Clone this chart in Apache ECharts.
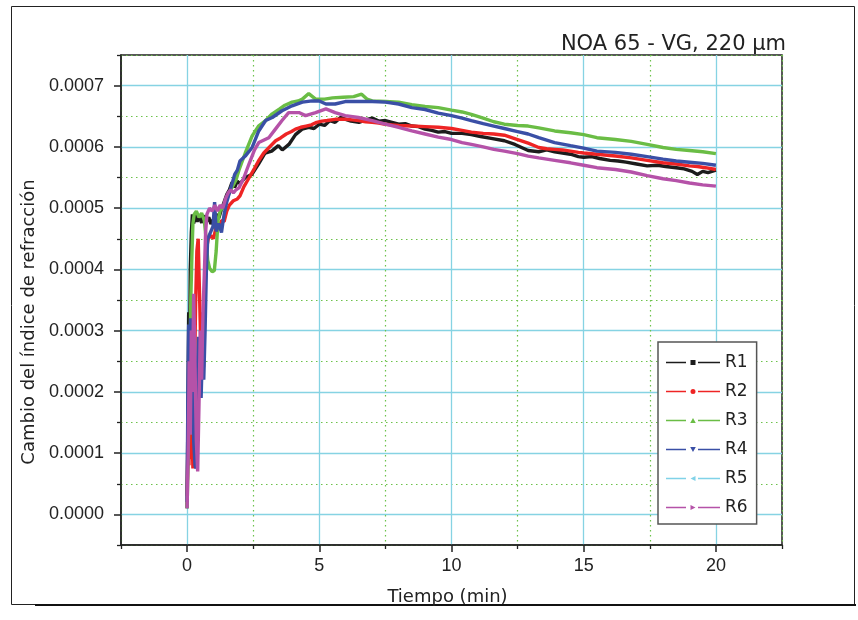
<!DOCTYPE html>
<html>
<head>
<meta charset="utf-8">
<script src="https://cdn.jsdelivr.net/npm/echarts@6/dist/echarts.min.js"></script>
<style>html,body{margin:0;padding:0;background:#fff;}#c{width:858px;height:620px;}</style>
</head>
<body>
<div id="c"></div>
<script>
// values in units of 1e-4 (refraction index change), time in min
const seriesNames = ['R1','R2','R3','R4','R5','R6'];
const xTickLabels = [0,5,10,15,20];
const yTickLabels = ['0.0000','0.0001','0.0002','0.0003','0.0004','0.0005','0.0006','0.0007'];

const r1 = [[0,0.1],[0.03,1.6],[0.06,3.3],[0.09,2.5],[0.12,4.0],[0.16,4.6],[0.2,4.9],[0.25,4.75],[0.3,4.9],[0.38,4.78],[0.46,4.86],[0.55,4.76],[0.64,4.88],[0.73,4.78],[0.82,4.85],[0.9,4.74],[1.0,4.82],[1.1,4.9],[1.2,4.84],[1.3,4.98],[1.4,5.1],[1.5,5.22],[1.6,5.3],[1.7,5.42],[1.8,5.34],[1.9,5.44],[2.0,5.4],[2.2,5.5],[2.45,5.55],[2.7,5.72],[2.95,5.9],[3.2,5.93],[3.45,6.02],[3.6,5.95],[3.85,6.04],[4.1,6.2],[4.35,6.29],[4.6,6.32],[4.8,6.3],[5.0,6.37],[5.2,6.35],[5.4,6.43],[5.6,6.4],[5.8,6.48],[6.0,6.45],[6.2,6.42],[6.5,6.4],[6.75,6.44],[7.0,6.47],[7.25,6.42],[7.5,6.43],[7.75,6.4],[8.0,6.37],[8.25,6.38],[8.5,6.34],[8.75,6.33],[9.0,6.29],[9.25,6.27],[9.5,6.24],[9.75,6.25],[10.0,6.22],[10.4,6.22],[10.75,6.2],[11.1,6.17],[11.5,6.14],[12.0,6.1],[12.4,6.04],[12.9,5.94],[13.3,5.92],[13.6,5.95],[13.9,5.92],[14.2,5.9],[14.5,5.88],[14.8,5.84],[15.0,5.83],[15.3,5.84],[15.6,5.81],[16.0,5.78],[16.3,5.77],[16.6,5.75],[17.0,5.72],[17.4,5.69],[17.8,5.7],[18.1,5.68],[18.5,5.66],[18.8,5.64],[19.1,5.6],[19.3,5.55],[19.5,5.6],[19.7,5.58],[20.0,5.62]];
const r2 = [[0,0.3],[0.04,1.4],[0.07,0.8],[0.1,1.9],[0.14,0.9],[0.18,1.5],[0.22,0.75],[0.27,2.0],[0.32,3.4],[0.37,4.3],[0.42,4.5],[0.47,3.6],[0.52,2.7],[0.57,3.3],[0.62,2.4],[0.67,3.5],[0.72,4.3],[0.8,4.5],[0.9,4.55],[1.0,4.5],[1.1,4.7],[1.2,4.65],[1.3,4.8],[1.4,4.78],[1.5,4.95],[1.6,5.05],[1.75,5.12],[1.9,5.15],[2.0,5.2],[2.15,5.35],[2.35,5.5],[2.55,5.65],[2.7,5.77],[2.9,5.9],[3.1,5.99],[3.35,6.1],[3.55,6.15],[3.75,6.21],[3.95,6.25],[4.1,6.29],[4.3,6.32],[4.5,6.34],[4.7,6.36],[4.9,6.4],[5.1,6.42],[5.3,6.43],[5.6,6.45],[6.0,6.45],[6.25,6.44],[6.5,6.43],[6.75,6.41],[7.0,6.4],[7.25,6.39],[7.5,6.37],[7.75,6.36],[8.0,6.35],[8.5,6.34],[9.0,6.33],[9.5,6.32],[10.0,6.3],[10.4,6.27],[10.75,6.24],[11.2,6.22],[11.6,6.21],[12.0,6.19],[12.5,6.12],[12.9,6.06],[13.3,5.99],[13.6,5.97],[13.9,5.96],[14.2,5.95],[14.5,5.93],[14.8,5.91],[15.0,5.9],[15.5,5.88],[16.2,5.85],[16.8,5.82],[17.4,5.78],[18.0,5.74],[18.5,5.72],[19.0,5.69],[19.3,5.68],[19.6,5.66],[20.0,5.63]];
const r3 = [[0,0.1],[0.05,1.2],[0.1,2.3],[0.14,3.5],[0.18,4.2],[0.22,4.75],[0.27,4.9],[0.35,4.95],[0.45,4.85],[0.55,4.92],[0.65,4.8],[0.72,4.5],[0.78,4.15],[0.85,4.02],[0.95,3.96],[1.03,3.98],[1.1,4.3],[1.17,4.8],[1.25,4.96],[1.35,5.0],[1.45,5.12],[1.55,5.2],[1.65,5.3],[1.75,5.38],[1.85,5.46],[1.96,5.62],[2.2,5.9],[2.46,6.18],[2.7,6.34],[2.97,6.43],[3.22,6.54],[3.5,6.62],[3.7,6.68],[3.97,6.73],[4.2,6.75],[4.36,6.78],[4.6,6.87],[4.86,6.78],[5.2,6.78],[5.5,6.8],[5.9,6.81],[6.3,6.82],[6.6,6.86],[6.8,6.78],[7.0,6.75],[7.5,6.74],[8.0,6.73],[8.5,6.69],[9.0,6.66],[9.5,6.64],[10.0,6.6],[10.4,6.57],[10.75,6.53],[11.2,6.47],[11.6,6.41],[12.0,6.37],[12.5,6.35],[12.9,6.34],[13.3,6.31],[13.9,6.26],[14.5,6.23],[15.0,6.2],[15.5,6.15],[16.2,6.12],[16.8,6.09],[17.4,6.04],[18.0,5.99],[18.5,5.96],[19.0,5.94],[19.5,5.92],[20.0,5.89]];
const r4 = [[0,0.2],[0.03,2.0],[0.06,3.1],[0.09,2.2],[0.13,3.2],[0.17,1.6],[0.21,2.5],[0.25,1.2],[0.3,0.8],[0.34,0.75],[0.38,2.2],[0.43,2.9],[0.48,2.3],[0.53,1.9],[0.58,2.7],[0.63,2.2],[0.68,3.0],[0.73,4.0],[0.78,4.5],[0.88,4.6],[0.98,4.7],[1.04,5.1],[1.1,4.62],[1.2,4.75],[1.3,4.6],[1.4,4.9],[1.5,5.1],[1.6,5.25],[1.7,5.4],[1.8,5.55],[1.9,5.62],[2.0,5.77],[2.2,5.85],[2.46,5.99],[2.71,6.26],[2.97,6.43],[3.22,6.48],[3.59,6.59],[3.97,6.67],[4.36,6.73],[4.73,6.75],[5.0,6.75],[5.25,6.7],[5.6,6.7],[5.98,6.74],[6.48,6.74],[7.0,6.74],[7.5,6.73],[8.0,6.7],[8.5,6.64],[9.0,6.61],[9.5,6.55],[10.0,6.51],[10.4,6.47],[10.75,6.43],[11.2,6.38],[11.6,6.34],[12.0,6.3],[12.5,6.25],[12.9,6.21],[13.3,6.15],[13.9,6.07],[14.5,6.02],[15.0,5.98],[15.5,5.93],[16.2,5.91],[16.8,5.88],[17.4,5.84],[18.0,5.8],[18.5,5.77],[19.0,5.75],[19.5,5.73],[20.0,5.7]];
const r5 = [];
const r6 = [[0,0.1],[0.04,1.0],[0.08,2.5],[0.12,1.3],[0.16,3.0],[0.2,2.0],[0.25,3.6],[0.3,2.4],[0.35,1.2],[0.4,0.7],[0.45,1.8],[0.5,3.0],[0.55,2.2],[0.6,3.3],[0.65,3.9],[0.7,4.6],[0.75,4.9],[0.85,5.0],[0.95,4.95],[1.05,5.05],[1.15,4.95],[1.25,5.05],[1.35,5.0],[1.45,5.15],[1.55,5.25],[1.65,5.3],[1.75,5.25],[1.85,5.3],[1.96,5.33],[2.15,5.5],[2.34,5.72],[2.55,5.95],[2.71,6.07],[3.09,6.15],[3.34,6.29],[3.59,6.43],[3.84,6.56],[4.23,6.56],[4.48,6.51],[4.86,6.56],[5.25,6.62],[5.6,6.56],[5.98,6.51],[6.48,6.48],[7.0,6.43],[7.5,6.37],[8.0,6.32],[8.5,6.26],[9.0,6.21],[9.5,6.16],[10.0,6.12],[10.4,6.07],[10.75,6.04],[11.2,6.0],[11.6,5.96],[12.0,5.93],[12.5,5.89],[12.9,5.85],[13.3,5.82],[13.9,5.78],[14.5,5.74],[15.0,5.7],[15.5,5.66],[16.2,5.63],[16.8,5.59],[17.4,5.53],[18.0,5.48],[18.5,5.45],[19.0,5.41],[19.5,5.38],[20.0,5.36]];

const allData = [r1, r2, r3, r4, r5, r6];
const colors = ['#1c1c1c', '#ee2424', '#6abd45', '#3a4fa6', '#80d2e8', '#b552a8'];
const dash = 'M0,1.8H20V3.2H0Z M32,1.8H54V3.2H32Z ';
const icons = [
  'path://' + dash + 'M24.5,0H29.5V5H24.5Z',
  'path://' + dash + 'M24.5,2.5A2.5,2.5,0,1,0,29.5,2.5A2.5,2.5,0,1,0,24.5,2.5Z',
  'path://' + dash + 'M27,0L29.8,5L24.2,5Z',
  'path://' + dash + 'M24.2,0L29.8,0L27,5Z',
  'path://' + dash + 'M29.5,0L29.5,5L24.5,2.5Z',
  'path://' + dash + 'M24.5,0L29.5,2.5L24.5,5Z'
];

const font = "'DejaVu Sans', sans-serif";
const tickFont = "'Liberation Sans', Arial, sans-serif";
const cyan = '#86d3e3';
const green = '#6cc24a';

const chart = echarts.init(document.getElementById('c'), null, {renderer: 'canvas'});
chart.setOption({
  backgroundColor: '#fff',
  animation: false,
  title: {
    text: 'NOA 65 - VG, 220 μm',
    right: 67, top: 29,
    textStyle: {fontFamily: font, fontSize: 21, fontWeight: 'normal', color: '#222'}
  },
  graphic: [
    {type: 'rect', shape: {x: 11.5, y: 6.5, width: 843, height: 598}, style: {fill: 'none', stroke: '#222', lineWidth: 1}, silent: true},
    {type: 'line', shape: {x1: 35, y1: 605, x2: 856, y2: 605}, style: {stroke: '#111', lineWidth: 2}, silent: true}
  ],
  grid: {left: 121, right: 76, top: 55, bottom: 75, show: true, borderColor: '#222', borderWidth: 1.5, backgroundColor: 'transparent'},
  legend: {
    orient: 'vertical',
    left: 658, top: 342,
    padding: [12, 9, 8, 8],
    itemWidth: 54, itemHeight: 5, itemGap: 12,
    backgroundColor: '#fff',
    borderColor: '#555', borderWidth: 1.5,
    textStyle: {fontFamily: font, fontSize: 17, color: '#222'},
    data: seriesNames.map((n, i) => ({name: n, icon: icons[i]}))
  },
  xAxis: [{
    type: 'value', min: -2.5, max: 22.5, interval: 2.5,
    name: 'Tiempo (min)', nameLocation: 'middle', nameGap: 43,
    nameTextStyle: {fontFamily: font, fontSize: 18, color: '#222', padding: [0, 8, 0, 0]},
    axisLine: {show: true, onZero: false, lineStyle: {color: '#222', width: 1.5}},
    axisTick: {show: false},
    axisLabel: {
      formatter: v => (xTickLabels.indexOf(Math.round(v * 100) / 100) >= 0 ? String(Math.round(v)) : ''),
      fontFamily: tickFont, fontSize: 18, color: '#222', margin: 12
    },
    splitLine: {show: true, lineStyle: {color: ['rgba(0,0,0,0)', cyan], width: 1.3}}
  }, {
    type: 'value', min: -2.5, max: 22.5, interval: 5, position: 'bottom',
    axisLine: {show: false, onZero: false},
    axisTick: {show: true, inside: false, length: 4, lineStyle: {color: '#222', width: 1.3}},
    minorTick: {show: true, splitNumber: 2, length: 7, lineStyle: {color: '#222', width: 1.5}},
    axisLabel: {show: false},
    splitLine: {show: true, lineStyle: {color: green, width: 1.2, type: [1.5, 3.5]}}
  }],
  yAxis: [{
    type: 'value', min: -0.5, max: 7.5, interval: 0.5,
    name: 'Cambio del índice de refracción', nameLocation: 'middle', nameGap: 76,
    nameTextStyle: {fontFamily: font, fontSize: 18, color: '#222', padding: [0, 44, 0, 0]},
    axisLine: {show: true, onZero: false, lineStyle: {color: '#222', width: 1.5}},
    axisTick: {show: false},
    axisLabel: {
      formatter: v => {
        const k = Math.round(v * 2);
        return (k % 2 === 0 && k >= 0) ? yTickLabels[k / 2] : '';
      },
      fontFamily: tickFont, fontSize: 18, color: '#222', margin: 17
    },
    splitLine: {show: true, lineStyle: {color: ['rgba(0,0,0,0)', cyan], width: 1.3}}
  }, {
    type: 'value', min: -0.5, max: 7.5, interval: 1, position: 'left',
    axisLine: {show: false, onZero: false},
    axisTick: {show: true, inside: false, length: 4, lineStyle: {color: '#222', width: 1.3}},
    minorTick: {show: true, splitNumber: 2, length: 7, lineStyle: {color: '#222', width: 1.5}},
    axisLabel: {show: false},
    splitLine: {show: true, lineStyle: {color: green, width: 1.2, type: [1.5, 3.5]}}
  }],
  series: seriesNames.map((n, i) => ({
    name: n, type: 'line',
    xAxisIndex: 0, yAxisIndex: 0,
    data: allData[i],
    showSymbol: false, symbol: 'none',
    lineStyle: {color: colors[i], width: 3.4},
    itemStyle: {color: colors[i]},
    z: 3
  }))
});
</script>
</body>
</html>
